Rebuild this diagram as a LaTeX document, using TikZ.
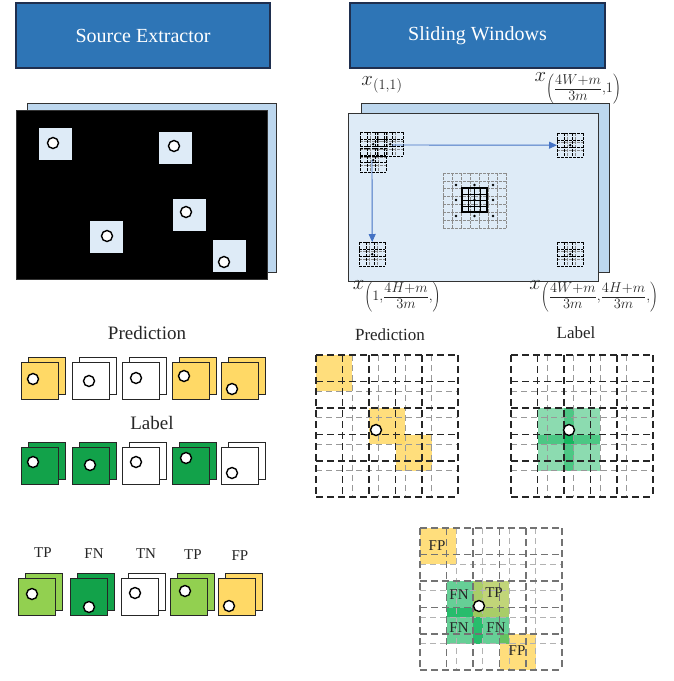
\documentclass[tikz,border=0pt]{standalone}
\usepackage{fontspec}
\setmainfont{Liberation Serif}
\usetikzlibrary{calc,arrows.meta}
\definecolor{titleblue}{HTML}{2E75B6}
\definecolor{titleedge}{HTML}{1F2F4F}
\definecolor{paleblue}{HTML}{DEEBF7}
\definecolor{backblue}{HTML}{BDD7EE}
\definecolor{goldfill}{HTML}{FFD966}
\definecolor{darkgreen}{HTML}{12A24A}
\definecolor{lightgreen}{HTML}{92D050}
\definecolor{arrowblue}{HTML}{4472C4}
\definecolor{gridgreen}{HTML}{00B050}

% a stacked pair of squares with a ring: name, x, y (front top-left), fill, ring dx, ring dy
\newcommand\drawcard[6]{%
  \node[cardsq, fill=#4] (#1b) at (#2+7,#3-5) {};
  \node[cardsq, fill=#4] (#1f) at (#2,#3) {};
  \node[ring] (#1c) at (#2+#5,#3+#6) {};
}
% overlapping sliding-window grid: x0, y0, main line style, offset line style
\newcommand\slidegrid[4]{%
  \foreach \k in {0,...,3}{
    \draw[#4] ({#1+\k*26.5+36},#2) -- ++(0,142);
    \draw[#4] (#1,{#2+\k*26.5+36}) -- ++(142,0);
  }
  \foreach \k in {0,...,4}{
    \draw[#3] ({#1+\k*26.5},#2) -- ++(0,142);
    \draw[#3] (#1,{#2+\k*26.5}) -- ++(142,0);
  }
  \draw[#3] ({#1+142},#2) -- ++(0,142);
  \draw[#3] (#1,{#2+142}) -- ++(142,0);
}
% one filled window of a grid: x0, y0, column, row, fill style
\newcommand\gridwin[5]{%
  \fill[#5] ({#1+#3*26.5},{#2+#4*26.5}) rectangle ++(36,36);
}
% small cluster of windows: name, x, y (top-left)
\newcommand\minigrid[3]{%
  \node[inner sep=0pt, minimum width=26pt, minimum height=24pt, anchor=north west] (#1) at (#2,#3) {};
  \foreach \u in {10.4,18.2}{\draw[miniout] ({#2+\u},#3) -- ++(0,24);}
  \foreach \v in {9.6,16.8}{\draw[miniout] (#2,{#3+\v}) -- ++(26,0);}
  \foreach \u in {0,7.8,15.6,26}{\draw[miniin] ({#2+\u},#3) -- ++(0,24);}
  \foreach \v in {0,7.2,14.4,24}{\draw[miniin] (#2,{#3+\v}) -- ++(26,0);}
  \fill (#1.center) circle (1.3pt);
}
% fraction with script-size parts, used in subscripts
\newcommand\subfrac[2]{\frac{\scriptstyle #1\mathstrut}{\scriptstyle\mathstrut #2}}

\begin{document}
\begin{tikzpicture}[x=1pt,y=-1pt,
  titlebox/.style={draw=titleedge, line width=1.5pt, fill=titleblue, text=white,
    font=\fontsize{20}{24}\selectfont, minimum height=65pt, inner sep=0pt},
  sheet/.style={draw=black!80, line width=1.4pt, anchor=north west, inner sep=0pt},
  src/.style={fill=paleblue, minimum width=33pt, minimum height=32pt, inner sep=0pt, anchor=north west},
  ring/.style={circle, draw=black, line width=1.4pt, fill=white, minimum size=11pt, inner sep=0pt},
  cardsq/.style={draw=black!85, line width=1.3pt, minimum size=37pt, inner sep=0pt, anchor=north west},
  bigcapt/.style={font=\fontsize{19}{22}\selectfont, text=black!85},
  midcapt/.style={font=\fontsize{17}{20}\selectfont, text=black!85},
  smallcapt/.style={font=\fontsize{15}{18}\selectfont, text=black!85},
  mathlab/.style={font=\fontsize{20}{24}\selectfont, text=black!85, inner sep=1pt},
  mainline/.style={black!85, line width=1.5pt, dash pattern=on 7pt off 4pt},
  offline/.style={black!40, line width=1pt, dash pattern=on 6pt off 4pt},
  mainlight/.style={black!55, line width=1.1pt, dash pattern=on 7pt off 4pt},
  offlight/.style={black!30, line width=0.8pt, dash pattern=on 6pt off 4pt},
  miniin/.style={black, line width=0.9pt, dash pattern=on 2.5pt off 1.5pt},
  miniout/.style={black!45, line width=0.6pt, dash pattern=on 2.5pt off 1.5pt},
  flow/.style={arrowblue, line width=0.9pt, -{Triangle[length=8pt,width=7pt]}},
  goldwin/.style={fill=goldfill, opacity=0.85},
  greenwin/.style={fill=gridgreen, opacity=0.45},
  greenwinb/.style={fill=gridgreen, opacity=0.6},
]
\useasboundingbox (0,0) rectangle (673,681);
\fill[white] (0,0) rectangle (673,681);

% ---- titles
\node[titlebox, minimum width=254pt] (se) at (143,35.5) {Source Extractor};
\node[titlebox, minimum width=255pt] (sw) at (477.5,35.5) {Sliding Windows};

% ---- source extractor image
\node[sheet, fill=backblue, minimum width=249pt, minimum height=169pt] (seback) at (27,103) {};
\node[sheet, fill=black, minimum width=251pt, minimum height=169pt] (sefront) at (16,110) {};
\node[src] (s1) at (39,128) {};  \node[ring] (s1c) at (53,143) {};
\node[src] (s2) at (159,132) {}; \node[ring] (s2c) at (174,146) {};
\node[src] (s3) at (173,199) {}; \node[ring] (s3c) at (186,212) {};
\node[src] (s4) at (90,221) {};  \node[ring] (s4c) at (107,236) {};
\node[src] (s5) at (213,240) {}; \node[ring] (s5c) at (224,262) {};

% ---- sliding windows image
\node[sheet, fill=backblue, minimum width=248pt, minimum height=169pt] (swback) at (361,103) {};
\node[sheet, fill=paleblue, minimum width=250pt, minimum height=168pt] (swfront) at (348,113) {};

\minigrid{tlb}{360}{148}
\minigrid{tla}{360}{132}
\minigrid{tlc}{377}{132}
\minigrid{trw}{557}{133}
\minigrid{blw}{359}{242}
\minigrid{brw}{557}{242}

% central window with its neighbours
\foreach \u in {0,...,7}{\draw[miniout] ({443+\u*9},173) -- ++(0,55);}
\foreach \v in {0,...,7}{\draw[miniout] (443,{173+\v*7.857}) -- ++(63,0);}
\foreach \u in {456,474.5,493}{\foreach \v in {185,200,216}{\fill (\u,\v) circle (1.3pt);}}
\node[draw=black, line width=1.3pt, minimum width=25pt, minimum height=24pt, inner sep=0pt] (cwin) at (474.5,200) {};
\foreach \u in {1,2,3}{
  \draw[line width=0.7pt] ({462+\u*6.25},188) -- ++(0,24);
  \draw[line width=0.7pt] (462,{188+\u*6}) -- ++(25,0);
}

\coordinate (hstart) at (392,145);
\coordinate (vstart) at (372,160);
\draw[flow] (hstart) -- (trw.west);
\draw[flow] (vstart) -- (blw.north);

\node[mathlab] (x11) at (382,85) {$x_{(1,1)}$};
\node[mathlab] (xw1) at (578,88) {$x_{\left(\subfrac{4W+m}{3m},1\right)}$};
\node[mathlab] (x1h) at (397,296) {$x_{\left(1,\subfrac{4H+m}{3m},\right)}$};
\node[mathlab] (xwh) at (594,296) {$x_{\left(\subfrac{4W+m}{3m},\subfrac{4H+m}{3m},\right)}$};

% ---- per-source cards
\node[bigcapt] (predl) at (147,333) {Prediction};
\drawcard{p1}{21}{362}{goldfill}{12}{17}
\drawcard{p2}{72}{362}{white}{17}{19}
\drawcard{p3}{122}{362}{white}{14}{16}
\drawcard{p4}{172}{362}{goldfill}{12}{14}
\drawcard{p5}{221}{362}{goldfill}{11}{27}

\node[bigcapt] (labl) at (152,423) {Label};
\drawcard{l1}{21}{447}{darkgreen}{12}{15}
\drawcard{l2}{72}{447}{darkgreen}{18}{18}
\drawcard{l3}{122}{447}{white}{14}{15}
\drawcard{l4}{172}{447}{darkgreen}{14}{11}
\drawcard{l5}{221}{447}{white}{11}{26}

\node[smallcapt] (tp1) at (43,553) {TP};
\node[smallcapt] (fn1) at (94,554) {FN};
\node[smallcapt] (tn1) at (146,554) {TN};
\node[smallcapt] (tp2) at (193,555) {TP};
\node[smallcapt] (fp1) at (240,556) {FP};
\drawcard{r1}{18}{578}{lightgreen}{14}{16}
\drawcard{r2}{70}{578}{darkgreen}{19}{29}
\drawcard{r3}{121}{578}{white}{14}{15}
\drawcard{r4}{170}{578}{lightgreen}{15}{13}
\drawcard{r5}{218}{578}{goldfill}{11}{28}

% ---- window grids
\node[midcapt] (predg) at (390,335) {Prediction};
\gridwin{316}{355}{0}{0}{goldwin}
\gridwin{316}{355}{2}{2}{goldwin}
\gridwin{316}{355}{3}{3}{goldwin}
\slidegrid{316}{355}{mainline}{offline}
\node[ring] (pgc) at (376,430) {};

\node[midcapt] (labg) at (576,333) {Label};
\gridwin{511}{355}{1}{2}{greenwin}
\gridwin{511}{355}{2}{2}{greenwin}
\gridwin{511}{355}{1}{3}{greenwin}
\gridwin{511}{355}{2}{3}{greenwin}
\slidegrid{511}{355}{mainline}{offline}
\node[ring] (lgc) at (569,430) {};

% ---- combined grid
\gridwin{420}{528}{0}{0}{goldwin}
\gridwin{420}{528}{3}{4}{goldwin}
\gridwin{420}{528}{1}{2}{greenwinb}
\gridwin{420}{528}{1}{3}{greenwinb}
\gridwin{420}{528}{2}{3}{greenwinb}
\gridwin{420}{528}{2}{2}{greenwinb}
\gridwin{420}{528}{2}{2}{fill=goldfill, opacity=0.6}
\slidegrid{420}{528}{mainlight}{offlight}
\node[smallcapt] (cfp1) at (437,546) {FP};
\node[smallcapt] (cfn1) at (459,595) {FN};
\node[smallcapt] (ctp) at (494,593) {TP};
\node[smallcapt] (cfn2) at (459,628) {FN};
\node[smallcapt] (cfn3) at (496,628) {FN};
\node[smallcapt] (cfp2) at (517,651) {FP};
\node[ring] (cgc) at (479,606) {};
\end{tikzpicture}
\end{document}
